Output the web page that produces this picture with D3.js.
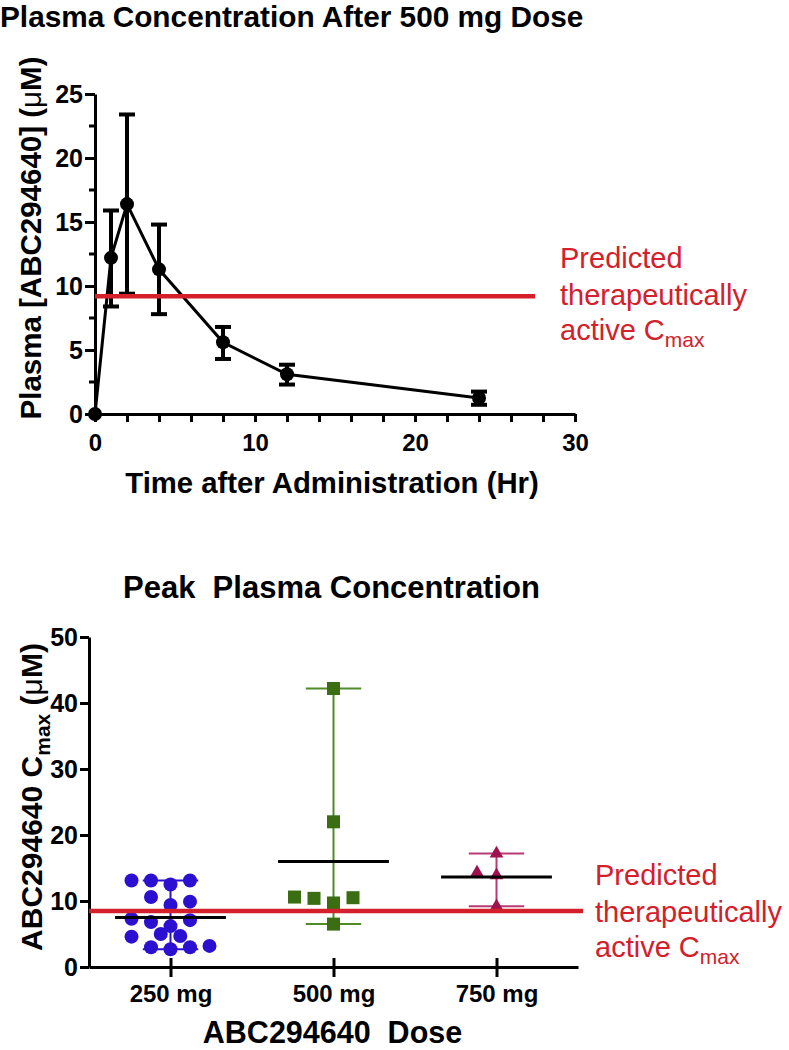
<!DOCTYPE html>
<html>
<head>
<meta charset="utf-8">
<script src="https://cdn.jsdelivr.net/npm/d3@7"></script>
<style>
  html, body { margin: 0; padding: 0; background: #fff; }
  svg text { font-family: "Liberation Sans", Arial, Helvetica, sans-serif; }
</style>
</head>
<body>
<svg id="chart" width="789" height="1050"></svg>
<script>
// ---------- Data: top chart (time course, 500 mg) ----------
const timeHr   = [0, 1, 2, 4, 8, 12, 24];
const concMean = [0, 12.2, 16.4, 11.3, 5.6, 3.1, 1.25];
const concLow  = [0, 8.4, 9.4, 7.8, 4.3, 2.3, 0.72];
const concHigh = [0, 15.9, 23.4, 14.8, 6.8, 3.85, 1.75];
const thresholdTop = 9.2;
const xTicksTop = [0, 10, 20, 30];
const yTicksTop = [0, 5, 10, 15, 20, 25];

// ---------- Data: bottom chart (Cmax by dose) ----------
const doses = ["250 mg", "500 mg", "750 mg"];
const cmax250 = [13.1, 13.1, 12.5, 13.1, 10.6, 9.4, 9.9, 7.3, 6.8, 6.2, 7.1, 4.6, 5.0, 4.7, 3.0, 2.7, 3.0, 3.2];
const slot250 = [-2, -1, 0, 1, -1, 0, 1, -2, -1, 0, 1, -2, -0.5, 0.5, -1, 0, 1, 2];
const cmax500 = [42.2, 22.0, 10.6, 10.4, 9.7, 10.5, 6.5];
const slot500 = [0, 0, -2, -1, 0, 1, 0];
const cmax750 = [17.2, 14.3, 13.9, 9.2];
const slot750 = [0, -1, 0, 0];
const thresholdBottom = 8.5;
const yTicksBottom = [0, 10, 20, 30, 40, 50];

const RED = "#d3202a";
const svg = d3.select("#chart");
svg.append("rect").attr("width", 789).attr("height", 1050).attr("fill", "#fff");

// =============== TOP CHART ===============
const xT = d3.scaleLinear().domain([0, 30]).range([95, 575]);
const yT = d3.scaleLinear().domain([0, 25]).range([414, 94]);

svg.append("text").attr("x", 0).attr("y", 27)
  .attr("font-size", 29.8).attr("font-weight", "bold").attr("fill", "#000")
  .text("Plasma Concentration After 500 mg Dose");

// y axis
const gyT = svg.append("g").attr("transform", `translate(${xT(0)},0)`)
  .call(d3.axisLeft(yT).tickValues(yTicksTop).tickSize(10).tickSizeOuter(0).tickPadding(2));
// minor y ticks
gyT.selectAll(".minor").data(d3.range(2.5, 25, 5)).enter().append("line")
  .attr("class", "minor").attr("x1", -6).attr("x2", 0)
  .attr("y1", d => yT(d)).attr("y2", d => yT(d));
// x axis
const gxT = svg.append("g").attr("transform", `translate(0,${yT(0)})`)
  .call(d3.axisBottom(xT).tickValues(d3.range(0, 31, 2)).tickSize(8).tickSizeOuter(0)
    .tickFormat(d => xTicksTop.includes(d) ? d : ""));
gxT.selectAll(".tick text").attr("y", 37).attr("dy", 0);

[gyT, gxT].forEach(g => {
  g.select(".domain").attr("stroke", "#000").attr("stroke-width", 3);
  g.selectAll("line").attr("stroke", "#000").attr("stroke-width", 3);
  g.selectAll(".tick text").attr("font-weight", "bold").attr("fill", "#000")
    .attr("font-family", "Liberation Sans, Arial, sans-serif");
});
gyT.selectAll(".tick text").attr("font-size", 25);
gxT.selectAll(".tick text").attr("font-size", 24);

// axis titles
svg.append("text").attr("x", 332).attr("y", 493).attr("text-anchor", "middle")
  .attr("font-size", 29.3).attr("font-weight", "bold").text("Time after Administration (Hr)");
const ylT = svg.append("text").attr("transform", "translate(41,238) rotate(-90)")
  .attr("text-anchor", "middle").attr("font-size", 29.5).attr("font-weight", "bold");
ylT.append("tspan").text("Plasma [ABC294640] (");
ylT.append("tspan").attr("font-weight", "normal").text("μ");
ylT.append("tspan").text("M)");

// data
const ptsTop = timeHr.map((t, i) => ({ t, m: concMean[i], lo: concLow[i], hi: concHigh[i] }));
const eb = svg.append("g").attr("stroke", "#000").attr("stroke-width", 4);
ptsTop.filter(d => d.hi > d.lo).forEach(d => {
  eb.append("line").attr("x1", xT(d.t)).attr("x2", xT(d.t)).attr("y1", yT(d.lo)).attr("y2", yT(d.hi));
  eb.append("line").attr("x1", xT(d.t) - 8).attr("x2", xT(d.t) + 8).attr("y1", yT(d.lo)).attr("y2", yT(d.lo));
  eb.append("line").attr("x1", xT(d.t) - 8).attr("x2", xT(d.t) + 8).attr("y1", yT(d.hi)).attr("y2", yT(d.hi));
});
svg.append("path").datum(ptsTop)
  .attr("fill", "none").attr("stroke", "#000").attr("stroke-width", 3)
  .attr("d", d3.line().x(d => xT(d.t)).y(d => yT(d.m)));
svg.append("g").selectAll("circle").data(ptsTop).enter().append("circle")
  .attr("cx", d => xT(d.t)).attr("cy", d => yT(d.m)).attr("r", 7).attr("fill", "#000");

// threshold
svg.append("line").attr("x1", xT(0)).attr("x2", xT(27.5))
  .attr("y1", yT(thresholdTop)).attr("y2", yT(thresholdTop))
  .attr("stroke", RED).attr("stroke-width", 4.5);

function redNote(x, y0) {
  const g = svg.append("g").attr("fill", RED).attr("font-size", 29);
  g.append("text").attr("x", x).attr("y", y0).text("Predicted");
  g.append("text").attr("x", x).attr("y", y0 + 36.5).text("therapeutically");
  const t = g.append("text").attr("x", x).attr("y", y0 + 72);
  t.append("tspan").text("active C");
  t.append("tspan").attr("font-size", 21).attr("dy", 7).text("max");
}
redNote(560, 268);

// =============== BOTTOM CHART ===============
const xB = d3.scalePoint().domain(doses).range([89, 578]).padding(0.5);
const yB = d3.scaleLinear().domain([0, 50]).range([967, 637]);
const step = xB.step();
const slotW = 19.5;

svg.append("text").attr("x", 123).attr("y", 598)
  .attr("font-size", 31).attr("font-weight", "bold").attr("xml:space", "preserve")
  .text("Peak  Plasma Concentration");

const gyB = svg.append("g").attr("transform", `translate(89,0)`)
  .call(d3.axisLeft(yB).tickValues(yTicksBottom).tickSize(9).tickSizeOuter(0).tickPadding(2));
const gxB = svg.append("g").attr("transform", `translate(0,${yB(0)})`)
  .call(d3.axisBottom(xB).tickSize(10).tickSizeOuter(0));
gxB.selectAll(".tick line").attr("y1", -9).attr("y2", 10);
gxB.selectAll(".tick text").attr("y", 35).attr("dy", 0);
[gyB, gxB].forEach(g => {
  g.select(".domain").attr("stroke", "#000").attr("stroke-width", 3);
  g.selectAll("line").attr("stroke", "#000").attr("stroke-width", 3);
  g.selectAll(".tick text").attr("font-weight", "bold").attr("fill", "#000")
    .attr("font-family", "Liberation Sans, Arial, sans-serif");
});
gyB.selectAll(".tick text").attr("font-size", 25);
gxB.selectAll(".tick text").attr("font-size", 24);

svg.append("text").attr("x", 332.5).attr("y", 1043).attr("text-anchor", "middle")
  .attr("font-size", 30.5).attr("font-weight", "bold").attr("xml:space", "preserve")
  .text("ABC294640  Dose");
const ylB = svg.append("text").attr("transform", "translate(42,797) rotate(-90)")
  .attr("text-anchor", "middle").attr("font-size", 30).attr("font-weight", "bold");
ylB.append("tspan").text("ABC294640 C");
ylB.append("tspan").attr("font-size", 21).attr("dy", 8).text("max");
ylB.append("tspan").attr("dy", -8).text(" (");
ylB.append("tspan").attr("font-weight", "normal").text("μ");
ylB.append("tspan").text("M)");

const groups = [
  { dose: "250 mg", vals: cmax250, slots: slot250, fill: "#2c10d2", bar: "#2c10d2", shape: "circle" },
  { dose: "500 mg", vals: cmax500, slots: slot500, fill: "#3b6e13", bar: "#4f8c28", shape: "square" },
  { dose: "750 mg", vals: cmax750, slots: slot750, fill: "#a0124e", bar: "#b83a72", shape: "triangle" }
];

groups.forEach(g => {
  const cx = xB(g.dose);
  const lo = d3.min(g.vals), hi = d3.max(g.vals), mean = d3.mean(g.vals);
  const capW = step * 0.17;
  const bars = svg.append("g").attr("stroke", g.bar).attr("stroke-width", 2);
  bars.append("line").attr("x1", cx).attr("x2", cx).attr("y1", yB(lo)).attr("y2", yB(hi));
  bars.append("line").attr("x1", cx - capW).attr("x2", cx + capW).attr("y1", yB(lo)).attr("y2", yB(lo));
  bars.append("line").attr("x1", cx - capW).attr("x2", cx + capW).attr("y1", yB(hi)).attr("y2", yB(hi));

  const pts = g.vals.map((v, i) => ({ v, s: g.slots[i] }));
  const pg = svg.append("g").attr("fill", g.fill);
  if (g.shape === "circle") {
    pg.selectAll("circle").data(pts).enter().append("circle")
      .attr("cx", d => cx + d.s * slotW).attr("cy", d => yB(d.v)).attr("r", 7);
  } else if (g.shape === "square") {
    pg.selectAll("rect").data(pts).enter().append("rect")
      .attr("x", d => cx + d.s * slotW - 6.5).attr("y", d => yB(d.v) - 6.5)
      .attr("width", 13).attr("height", 13);
  } else {
    pg.selectAll("path").data(pts).enter().append("path")
      .attr("transform", d => `translate(${cx + d.s * slotW},${yB(d.v)})`)
      .attr("d", d3.symbol(d3.symbolTriangle, 80));
  }
  const mw = step * 0.34;
  svg.append("line").attr("x1", cx - mw).attr("x2", cx + mw)
    .attr("y1", yB(mean)).attr("y2", yB(mean))
    .attr("stroke", "#000").attr("stroke-width", 3);
});

svg.append("line").attr("x1", 89).attr("x2", 583)
  .attr("y1", yB(thresholdBottom)).attr("y2", yB(thresholdBottom))
  .attr("stroke", RED).attr("stroke-width", 4.5);
redNote(595, 885);
</script>
</body>
</html>
